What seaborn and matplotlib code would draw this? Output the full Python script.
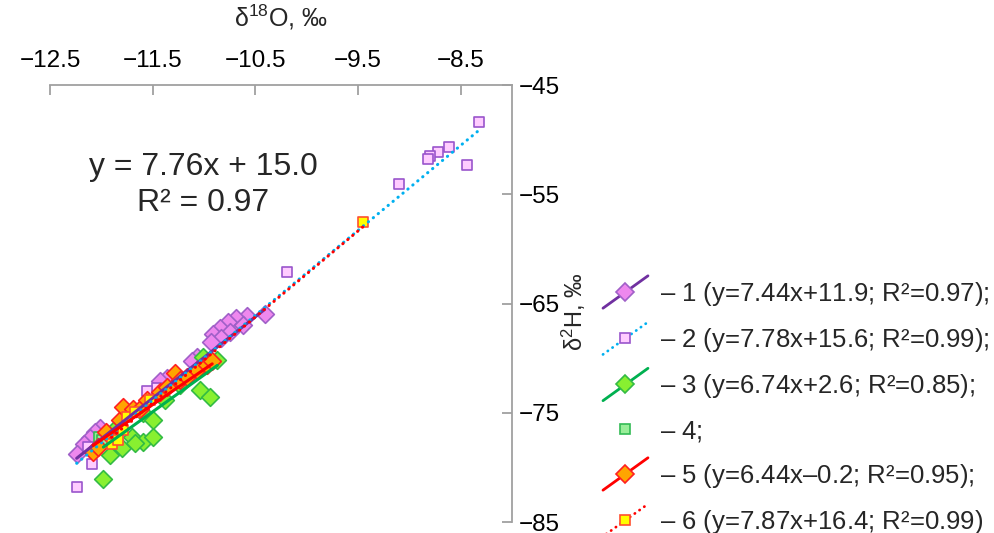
import numpy as np
import matplotlib
matplotlib.use('Agg')
import matplotlib.pyplot as plt
import seaborn as sns
from matplotlib.lines import Line2D
from matplotlib.legend_handler import HandlerBase

# groups 1..6: d18O (x) and d2H (y) values
g1_x = [-10.41, -10.58, -10.69, -10.77, -10.62, -10.84, -10.75, -10.91, -10.83, -10.93,
        -11.07, -11.12, -11.36, -11.43, -12.01, -12.06, -12.11, -12.17, -12.24]
g1_y = [-66.0, -66.1, -66.3, -66.7, -67.0, -67.2, -67.6, -67.8, -68.2, -68.5,
        -69.9, -70.3, -71.8, -72.1, -76.4, -76.8, -77.3, -77.9, -78.8]

g2_x = [-8.32, -8.61, -8.72, -8.80, -8.82, -8.44, -9.10, -10.19, -11.46, -11.56, -12.13, -12.09, -12.24]
g2_y = [-48.4, -50.7, -51.1, -51.5, -51.8, -52.3, -54.1, -62.1, -72.7, -73.0, -78.1, -79.7, -81.8]

g3_x = [-11.98, -11.92, -11.80, -11.70, -11.59, -11.50, -11.67, -11.85, -11.59, -11.50,
        -11.38, -11.23, -11.04, -10.94, -10.87, -11.01]
g3_y = [-81.1, -78.9, -78.2, -77.2, -77.7, -77.2, -77.8, -76.3, -75.0, -75.7,
        -73.8, -72.5, -72.9, -73.6, -70.2, -69.9]

g4_x = [-12.02, -11.95, -11.99]
g4_y = [-77.2, -77.1, -77.5]

g5_x = [-12.08, -12.03, -11.95, -11.82, -11.79, -11.69, -11.62, -11.56, -11.43, -11.36,
        -11.28, -11.23, -11.17, -11.07, -10.97, -10.92]
g5_y = [-78.6, -78.1, -76.8, -75.7, -74.5, -74.7, -74.7, -73.8, -73.1, -72.6,
        -71.4, -72.0, -71.7, -71.1, -70.6, -70.3]

g6_x = [-11.90, -11.84, -11.79, -11.75, -11.67, -11.53, -9.45]
g6_y = [-77.9, -77.5, -76.6, -75.4, -74.9, -73.8, -57.5]

# regression lines printed in the legend (group 4 has none)
slopes = [7.44, 7.78, 6.74, None, 6.44, 7.87]
intercepts = [11.9, 15.6, 2.6, None, -0.2, 16.4]
r2_values = [0.97, 0.99, 0.85, None, 0.95, 0.99]

# overall regression
all_slope = 7.76
all_intercept = 15.0
all_r2 = 0.97

xs_all = [g1_x, g2_x, g3_x, g4_x, g5_x, g6_x]
ys_all = [g1_y, g2_y, g3_y, g4_y, g5_y, g6_y]

markers = ['D', 's', 'D', 's', 'D', 's']
msizes = [9, 7.5, 9, 7.5, 9, 7.5]
face_cols = ['#EE88EE', '#FFCCFF', '#88F030', '#99EE99', '#FFA500', '#FFFF00']
edge_cols = ['#A060C8', '#9955CC', '#33BB44', '#33BB55', '#FF2020', '#FF5030']
line_cols = ['#7030A0', '#00B0F0', '#00B050', None, '#FF0000', '#FF0000']
dotted = (0, (0.1, 2.0))
line_styles = ['-', dotted, '-', 'None', '-', dotted]

sns.set_style('white')
plt.rcParams['font.family'] = ['Liberation Sans', 'DejaVu Sans']
plt.rcParams['mathtext.fontset'] = 'custom'
plt.rcParams['mathtext.rm'] = 'Liberation Sans'
plt.rcParams['mathtext.it'] = 'Liberation Sans:italic'


class DiagonalHandler(HandlerBase):
    # legend key: marker sitting on a slanted line
    def create_artists(self, legend, orig_handle, xdescent, ydescent, width, height, fontsize, trans):
        x0 = -xdescent
        x1 = x0 + width
        yc = -ydescent + height / 2
        dy = 0.36 * width
        ln = Line2D([x0, x1], [yc - dy, yc + dy])
        ln.update_from(orig_handle)
        ln.set_marker('None')
        ln.set_transform(trans)
        mk = Line2D([(x0 + x1) / 2], [yc])
        mk.update_from(orig_handle)
        mk.set_linestyle('None')
        mk.set_transform(trans)
        return [ln, mk]


fig = plt.figure(figsize=(9.94, 5.33), dpi=100)
ax = fig.add_axes([50 / 994, 1 - 522 / 533, 462 / 994, 437 / 533])

for i in range(6):
    sns.scatterplot(x=xs_all[i], y=ys_all[i], marker=markers[i], s=msizes[i] ** 2,
                    color=face_cols[i], edgecolor=edge_cols[i], linewidth=1.2,
                    ax=ax, zorder=2 + i * 0.1, legend=False)

for i in range(6):
    if slopes[i] is None:
        continue
    lx = np.array([min(xs_all[i]), max(xs_all[i])])
    ly = slopes[i] * lx + intercepts[i]
    sns.lineplot(x=lx, y=ly, color=line_cols[i], linestyle=line_styles[i], linewidth=2.2,
                 dash_capstyle='round', ax=ax, zorder=4 + i * 0.1, legend=False)

ax.set_xlim(-12.5, -8.0)
ax.set_ylim(-85, -45)
ax.set_xticks([-12.5, -11.5, -10.5, -9.5, -8.5])
ax.set_yticks([-85, -75, -65, -55, -45])

ax.xaxis.tick_top()
ax.xaxis.set_label_position('top')
ax.yaxis.tick_right()
ax.yaxis.set_label_position('right')
for side in ['left', 'bottom']:
    ax.spines[side].set_visible(False)
for side in ['top', 'right']:
    ax.spines[side].set_color('#A0A0A0')
    ax.spines[side].set_linewidth(1.3)
ax.tick_params(direction='in', length=7, width=1.3, color='#A0A0A0', labelsize=17.5,
               labelcolor='black')
ax.tick_params(axis='x', pad=9)
ax.tick_params(axis='y', pad=5)

ax.set_xlabel('δ$^{18}$O, ‰', fontsize=18, labelpad=17)
ax.set_ylabel('δ$^{2}$H, ‰', fontsize=17, rotation=90, va='center', ha='center')
ax.yaxis.set_label_coords((574 - 50) / 462, 1 - (312 - 85) / 437)

ax.text(-11.01, -54.15, f'y = {all_slope:.2f}x + {all_intercept:.1f}\nR² = {all_r2:.2f}',
        fontsize=23, ha='center', va='center', multialignment='center', linespacing=1.25)

# legend
handles = []
labels = []
for i in range(6):
    h = Line2D([], [], color=line_cols[i] if line_cols[i] else 'none', linestyle=line_styles[i],
               linewidth=2.0, dash_capstyle='round', marker=markers[i], markersize=msizes[i],
               markerfacecolor=face_cols[i], markeredgecolor=edge_cols[i], markeredgewidth=1.2)
    handles.append(h)
    if slopes[i] is None:
        labels.append(f'– $\\mathit{{{i + 1}}}$;')
    else:
        b = intercepts[i]
        sign = '+' if b >= 0 else '–'
        end = ')' if i == 5 else ');'
        labels.append(f'– $\\mathit{{{i + 1}}}$ (y={slopes[i]:.2f}x{sign}{abs(b):.1f}; '
                      f'R²={r2_values[i]:.2f}{end}')

ax.legend(handles, labels, loc='upper left', bbox_to_anchor=(603 / 994, 1 - 280 / 533),
          bbox_transform=fig.transFigure, frameon=False, fontsize=18.5, handlelength=1.75,
          handletextpad=0.45, labelspacing=0.71, borderpad=0, borderaxespad=0,
          handler_map={Line2D: DiagonalHandler()})

fig.savefig('out.png', dpi=100)
